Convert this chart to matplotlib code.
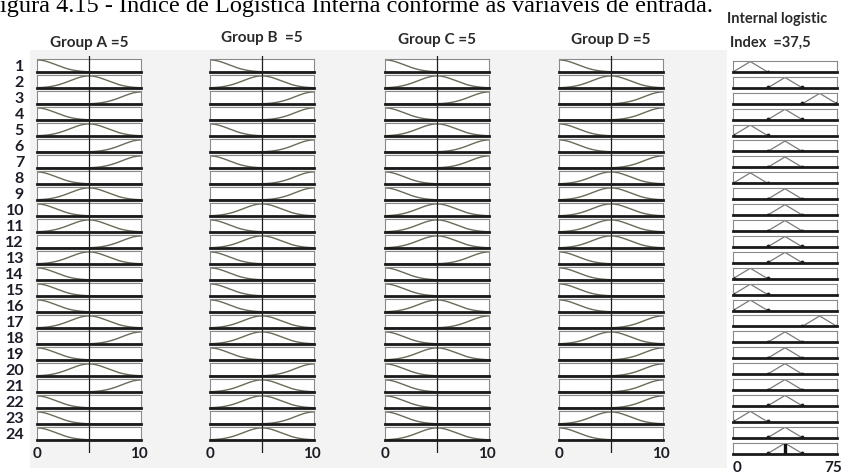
import numpy as np
import matplotlib.pyplot as plt
from matplotlib.patches import Rectangle

# figure size in pixels
W, H = 844, 474

# rule membership functions per input (L = low, M = medium, H = high)
rule_ids = [str(i) for i in range(1, 25)]
group_a = ['L', 'M', 'H', 'L', 'M', 'H', 'H', 'L', 'M', 'L', 'M', 'H',
           'M', 'L', 'L', 'L', 'M', 'H', 'L', 'M', 'H', 'L', 'L', 'L']
group_b = ['L', 'M', 'H', 'H', 'L', 'H', 'L', 'H', 'H', 'M', 'L', 'M',
           'L', 'L', 'L', 'L', 'M', 'M', 'L', 'H', 'M', 'M', 'H', 'M']
group_c = ['L', 'M', 'H', 'L', 'M', 'H', 'H', 'L', 'L', 'M', 'M', 'M',
           'H', 'L', 'L', 'M', 'H', 'L', 'M', 'L', 'L', 'L', 'L', 'M']
group_d = ['L', 'M', 'H', 'H', 'L', 'L', 'H', 'M', 'M', 'M', 'M', 'M',
           'L', 'L', 'L', 'L', 'H', 'M', 'H', 'H', 'H', 'H', 'M', 'L']
output_mf = ['L', 'M', 'H', 'M', 'L', 'M', 'M', 'L', 'M', 'M', 'M', 'M',
             'M', 'L', 'L', 'L', 'H', 'M', 'M', 'M', 'M', 'M', 'L', 'M']

input_values = [5, 5, 5, 5]
input_names = ['Group A =5', 'Group B  =5', 'Group C =5', 'Group D =5']
input_range = (0, 10)
output_range = (0, 75)
output_value = 37.5
output_aggregate = 'M'

# triangle (left, peak, right) for output sets
out_tri = {'L': (0, 12.5, 25), 'M': (25, 37.5, 50), 'H': (50, 62.5, 75)}

fig = plt.figure(figsize=(W / 100, H / 100), dpi=100)
fig.patch.set_facecolor('white')


def px_axes(x, y, w, h, **kw):
    # pixel box (top-left origin) -> figure axes
    return fig.add_axes([x / W, 1 - (y + h) / H, w / W, h / H], **kw)


# background panel of the screenshot
bg = px_axes(0, 0, W, H)
bg.set_xlim(0, W)
bg.set_ylim(H, 0)
bg.axis('off')
bg.add_patch(Rectangle((30, 50), 697, 418, color='#f3f3f3', lw=0))

lw_curve = 1.0
curve_col = '#6a6a58'


def input_curve(mf):
    x = np.linspace(0, 10, 200)
    c = {'L': 0, 'M': 5, 'H': 10}[mf]
    return x, 0.93 * np.exp(-(x - c) ** 2 / (2 * 1.8 ** 2))


def style_box(ax):
    ax.set_xticks([])
    ax.set_yticks([])
    for s in ['top', 'left', 'right']:
        ax.spines[s].set_color('#8a8a8a')
        ax.spines[s].set_linewidth(0.8)
    ax.spines['bottom'].set_color('#1a1a1a')
    ax.spines['bottom'].set_linewidth(2.0)
    ax.set_facecolor('white')


col_x = [37, 210, 385, 559]
col_w = 104
row_top, row_pitch, row_h = 59, 16, 13

label_font = ['Lato', 'DejaVu Sans']
txt_col = '#1c1c24'

for ci, series in enumerate([group_a, group_b, group_c, group_d]):
    x0 = col_x[ci]
    for r, mf in enumerate(series):
        ax = px_axes(x0, row_top + r * row_pitch, col_w, row_h)
        ax.set_xlim(*input_range)
        ax.set_ylim(0, 1)
        xs, ys = input_curve(mf)
        ax.plot(xs, ys, color=curve_col, lw=lw_curve)
        style_box(ax)
    # overlay with the input value line and axis labels
    ov = px_axes(x0, 56, col_w, 397)
    ov.set_xlim(*input_range)
    ov.set_ylim(0, 1)
    ov.axis('off')
    ov.axvline(input_values[ci], color='#1e1e1e', lw=0.9)
    ov.text(input_range[0], -0.002, str(input_range[0]), ha='center', va='center',
            fontsize=11, fontweight='bold', color=txt_col, family=label_font,
            transform=ov.get_xaxis_transform())
    ov.text(input_range[1] - 0.2, -0.002, str(input_range[1]), ha='center', va='center',
            fontsize=11, fontweight='bold', color=txt_col, family=label_font,
            transform=ov.get_xaxis_transform())
    fig.text((x0 + col_w / 2) / W, 1 - [43, 38, 40, 40][ci] / H, input_names[ci],
             ha='center', va='center', fontsize=11, fontweight='bold',
             color='#2a2a2a', family=label_font)

# rule numbers
for r, lab in enumerate(rule_ids):
    fig.text(24 / W, 1 - (row_top + r * row_pitch + 8) / H, lab, ha='right', va='center',
             fontsize=11.5, fontweight='bold', color='#1c1c28', family=label_font)

# output column
ox, ow = 733, 104
o_top, o_pitch, o_h = 61, 15.9, 11
for r, mf in enumerate(output_mf + [output_aggregate]):
    ax = px_axes(ox, o_top + r * o_pitch, ow, o_h)
    ax.set_xlim(*output_range)
    ax.set_ylim(0, 1)
    a, b, c = out_tri[mf]
    ax.plot([a, b, c], [0, 0.95, 0], color='#7a7a7a', lw=0.9)
    ax.plot([a, c], [0.04, 0.04], 'o', color='#222222', ms=1.8)
    if r == len(output_mf):
        ax.plot([output_value, output_value], [0, 0.85], color='#111111', lw=2.4)
    style_box(ax)

fig.text(ox / W, 1 - 468 / H, '0', ha='left', va='center', fontsize=11,
         fontweight='bold', color=txt_col, family=label_font)
fig.text(842 / W, 1 - 468 / H, '75', ha='right', va='center', fontsize=11,
         fontweight='bold', color=txt_col, family=label_font)
fig.text(777 / W, 1 - 19 / H, 'Internal logistic', ha='center', va='center',
         fontsize=10.5, fontweight='bold', color='#2a2a2a', family=label_font)
fig.text(730 / W, 1 - 43 / H, 'Index  =37,5', ha='left', va='center',
         fontsize=10.5, fontweight='bold', color='#2a2a2a', family=label_font)

# caption of the page, cut at the top edge as in the scan
fig.text(0, 1 - 12 / H, 'igura 4.15 - Índice de Logística Interna conforme as variáveis de entrada.',
         ha='left', va='baseline', fontsize=17.5, color='black',
         family=['Liberation Serif', 'DejaVu Serif'])

fig.savefig('out.png', dpi=100)
